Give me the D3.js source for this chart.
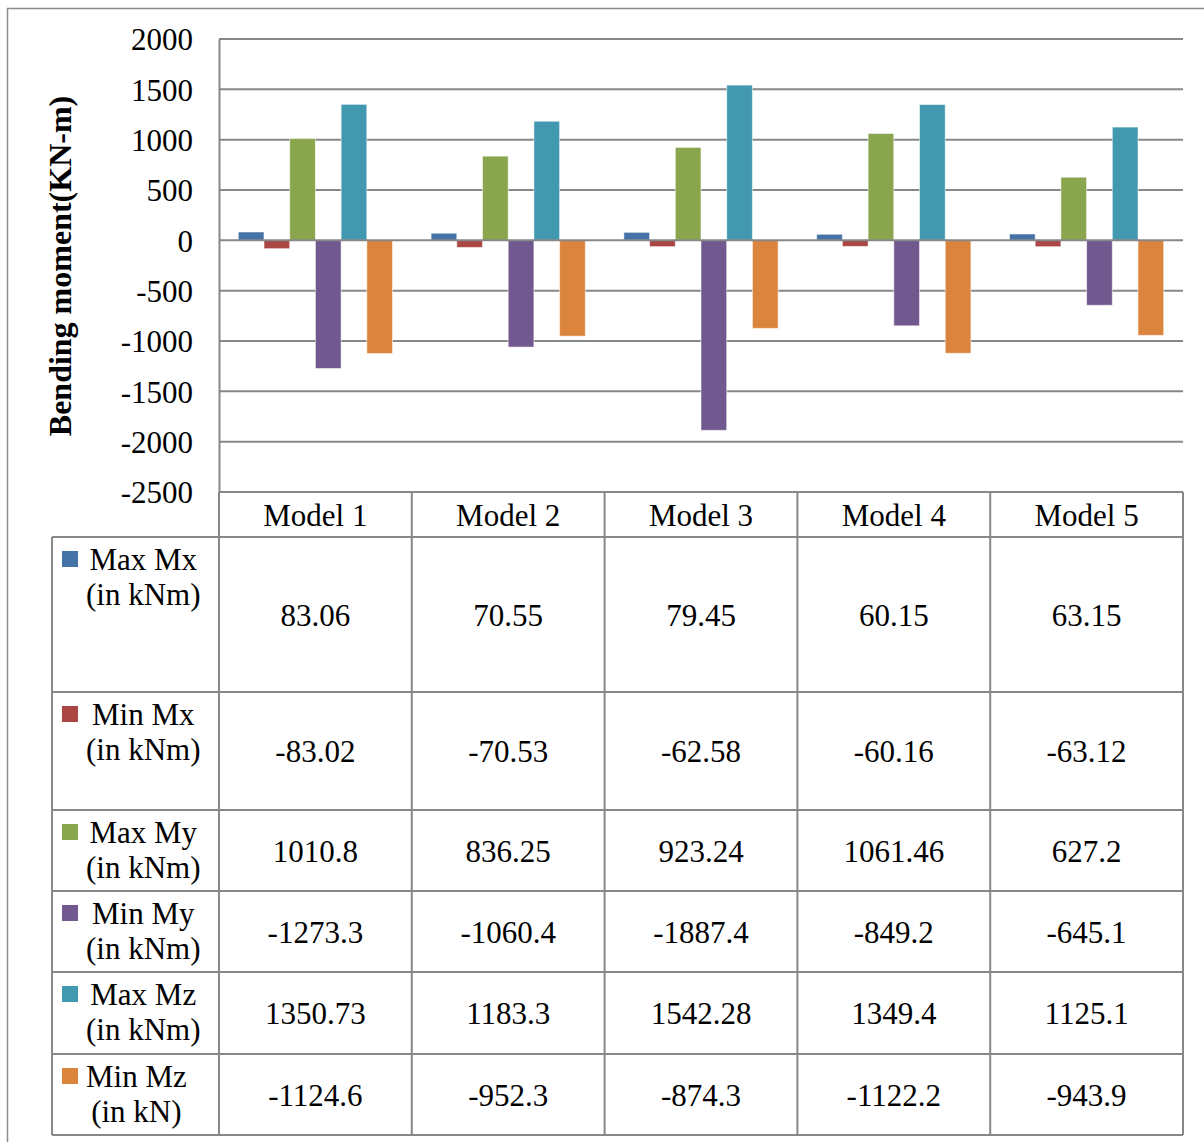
<!DOCTYPE html>
<html>
<head>
<meta charset="utf-8">
<script src="https://cdn.jsdelivr.net/npm/d3@7"></script>
<style>
  html, body { margin: 0; padding: 0; background: #ffffff; }
  svg { display: block; }
  text { font-family: "Liberation Serif", "Times New Roman", serif; fill: #000; }
</style>
</head>
<body>
<svg id="chart" width="1204" height="1142"></svg>
<script>
// Bending moments for each model (kNm)
const models = ["Model 1", "Model 2", "Model 3", "Model 4", "Model 5"];
const seriesNames = ["Max Mx", "Min Mx", "Max My", "Min My", "Max Mz", "Min Mz"];
const seriesUnits = ["(in kNm)", "(in kNm)", "(in kNm)", "(in kNm)", "(in kNm)", "(in kN)"];
const seriesLabels = ["83.06|70.55|79.45|60.15|63.15",
  "-83.02|-70.53|-62.58|-60.16|-63.12",
  "1010.8|836.25|923.24|1061.46|627.2",
  "-1273.3|-1060.4|-1887.4|-849.2|-645.1",
  "1350.73|1183.3|1542.28|1349.4|1125.1",
  "-1124.6|-952.3|-874.3|-1122.2|-943.9"];
const maxMx = [83.06, 70.55, 79.45, 60.15, 63.15];
const minMx = [-83.02, -70.53, -62.58, -60.16, -63.12];
const maxMy = [1010.8, 836.25, 923.24, 1061.46, 627.2];
const minMy = [-1273.3, -1060.4, -1887.4, -849.2, -645.1];
const maxMz = [1350.73, 1183.3, 1542.28, 1349.4, 1125.1];
const minMz = [-1124.6, -952.3, -874.3, -1122.2, -943.9];
const yTicks = [2000, 1500, 1000, 500, 0, -500, -1000, -1500, -2000, -2500];
const colors = ["#4572A7", "#AA4643", "#89A54E", "#71588F", "#4198AF", "#DB843D"];

const seriesValues = [maxMx, minMx, maxMy, minMy, maxMz, minMz];
const cellText = seriesLabels.map(s => s.split("|"));

const svg = d3.select("#chart");
const FONT = 31;
const gridColor = "#878787";

// plot area
const plotLeft = 219, plotRight = 1183, plotTop = 39, plotBottom = 492;

const x = d3.scaleBand().domain(models).range([plotLeft, plotRight]).paddingInner(0).paddingOuter(0);
const y = d3.scaleLinear().domain([-2500, 2000]).range([plotBottom, plotTop]);

// outer chart frame
svg.append("rect")
  .attr("x", 7.5).attr("y", 8.5).attr("width", 1220).attr("height", 1160)
  .attr("fill", "none").attr("stroke", "#8c8c8c").attr("stroke-width", 1.5);

// horizontal gridlines
svg.append("g").selectAll("line").data(yTicks.filter(d => d !== 0)).join("line")
  .attr("x1", plotLeft).attr("x2", plotRight)
  .attr("y1", d => y(d)).attr("y2", d => y(d))
  .attr("stroke", gridColor).attr("stroke-width", 2);

// bars: six per group, gap width 150% of one bar
const barW = x.bandwidth() / 7.5;
const groups = svg.append("g").selectAll("g").data(seriesValues).join("g")
  .attr("fill", (d, i) => colors[i]);
groups.each(function (vals, si) {
  d3.select(this).selectAll("rect").data(vals).join("rect")
    .attr("x", (v, mi) => x(models[mi]) + barW * 0.75 + si * barW)
    .attr("width", barW)
    .attr("y", v => Math.min(y(v), y(0)))
    .attr("height", v => Math.abs(y(v) - y(0)))
    .attr("stroke", "rgba(255,255,255,0.55)").attr("stroke-width", 1);
});

// zero axis line drawn over the bars
svg.append("line")
  .attr("x1", plotLeft).attr("x2", plotRight)
  .attr("y1", y(0)).attr("y2", y(0))
  .attr("stroke", gridColor).attr("stroke-width", 2);

// vertical axis
const yAxis = d3.axisLeft(y).tickValues(yTicks).tickSize(0).tickPadding(26).tickFormat(d => String(d));
const yg = svg.append("g").attr("transform", `translate(${plotLeft},0)`).call(yAxis);
yg.select(".domain").attr("stroke", gridColor).attr("stroke-width", 2);
yg.selectAll("text")
  .style("font-family", "'Liberation Serif', 'Times New Roman', serif")
  .attr("font-size", FONT).attr("fill", "#000").attr("dy", "0.35em");

// axis title
svg.append("text")
  .attr("transform", "translate(71,266) rotate(-90)")
  .attr("text-anchor", "middle")
  .attr("font-size", 32).attr("font-weight", "bold")
  .text("Bending moment(KN-m)");

// data table
const tableLeft = 52;
const headerTop = plotBottom, headerBottom = 537;
const rowEdges = [537, 692, 810, 891, 972, 1054, 1135];
const tbl = svg.append("g");

// column separators through the header and body
const colEdges = models.map(m => x(m)).concat([plotRight]);
tbl.selectAll("line.col").data(colEdges).join("line").attr("class", "col")
  .attr("x1", d => d).attr("x2", d => d)
  .attr("y1", headerTop).attr("y2", rowEdges[rowEdges.length - 1])
  .attr("stroke", gridColor).attr("stroke-width", 2);
// left edge of the label column
tbl.append("line")
  .attr("x1", tableLeft).attr("x2", tableLeft)
  .attr("y1", rowEdges[0]).attr("y2", rowEdges[rowEdges.length - 1])
  .attr("stroke", gridColor).attr("stroke-width", 2);
// row separators
tbl.selectAll("line.row").data(rowEdges).join("line").attr("class", "row")
  .attr("x1", tableLeft).attr("x2", plotRight)
  .attr("y1", d => d).attr("y2", d => d)
  .attr("stroke", gridColor).attr("stroke-width", 2);

// header labels
tbl.selectAll("text.hdr").data(models).join("text").attr("class", "hdr")
  .attr("x", d => x(d) + x.bandwidth() / 2)
  .attr("y", (headerTop + headerBottom) / 2 + 11)
  .attr("text-anchor", "middle").attr("font-size", FONT)
  .text(d => d);

// series rows: legend key, label and values
seriesNames.forEach((name, si) => {
  const top = rowEdges[si], bottom = rowEdges[si + 1];
  tbl.append("rect")
    .attr("x", 62).attr("y", top + 14).attr("width", 16).attr("height", 16)
    .attr("fill", colors[si]);
  const l1 = tbl.append("text").attr("font-size", FONT).attr("y", top + 33).text(name);
  const l2 = tbl.append("text").attr("font-size", FONT).attr("y", top + 68).text(seriesUnits[si]);
  const w1 = l1.node().getComputedTextLength();
  const w2 = l2.node().getComputedTextLength();
  const cx = 86 + Math.max(w1, w2) / 2;
  l1.attr("x", cx).attr("text-anchor", "middle");
  l2.attr("x", cx).attr("text-anchor", "middle");

  tbl.selectAll(null).data(cellText[si]).join("text")
    .attr("x", (d, mi) => x(models[mi]) + x.bandwidth() / 2)
    .attr("y", (top + bottom) / 2 + 11)
    .attr("text-anchor", "middle").attr("font-size", FONT)
    .text(d => d);
});
</script>
</body>
</html>
